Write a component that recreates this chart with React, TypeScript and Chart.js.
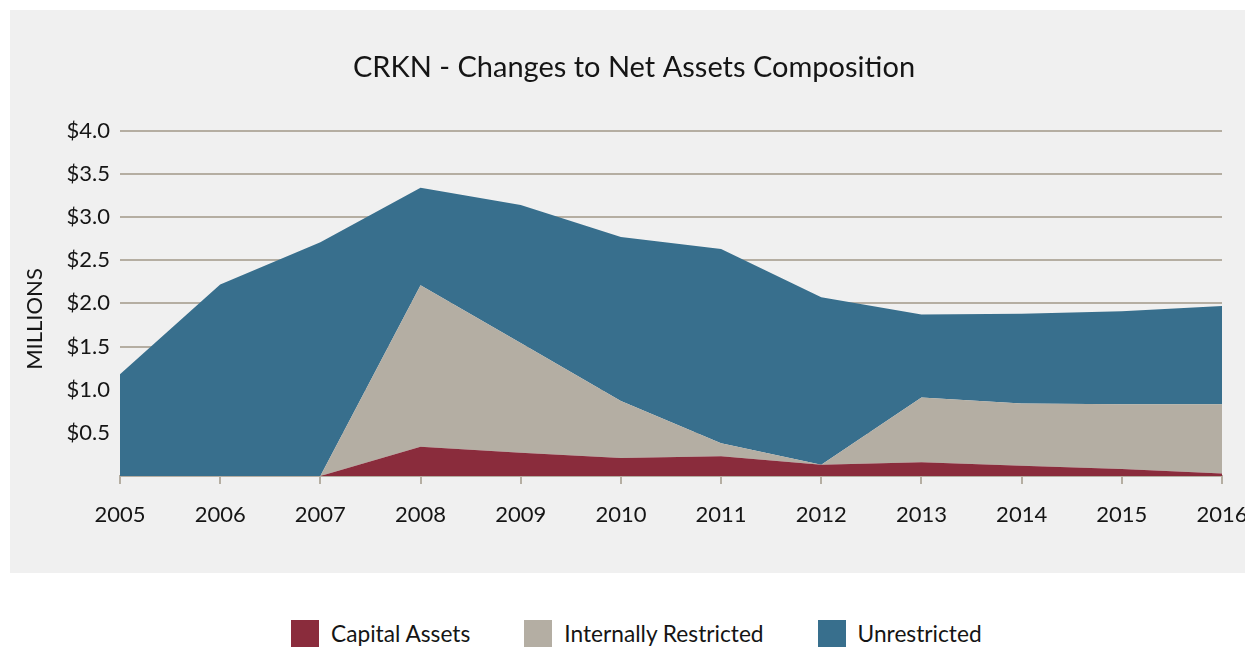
import React, { useEffect, useRef } from "react";
import { Chart, registerables } from "chart.js";

Chart.register(...registerables);

const years = ["2005", "2006", "2007", "2008", "2009", "2010", "2011", "2012", "2013", "2014", "2015", "2016"];
const capitalAssets = [0, 0, 0, 0.34, 0.27, 0.21, 0.23, 0.13, 0.16, 0.12, 0.08, 0.03];
const internallyRestricted = [0, 0, 0, 1.87, 1.27, 0.66, 0.15, 0, 0.75, 0.72, 0.75, 0.8];
const unrestricted = [1.18, 2.22, 2.71, 1.13, 1.6, 1.9, 2.25, 1.94, 0.96, 1.04, 1.08, 1.14];

const seriesNames = ["Capital Assets", "Internally Restricted", "Unrestricted"];
const seriesColors = ["#8a2c3c", "#b4aea3", "#386f8d"];

const FONT = "Lato, 'Open Sans', sans-serif";
const GRID = "#b5aea2";
const TEXT = "#151515";

const yTitlePlugin = {
  id: "yTitle",
  afterDraw(chart: any) {
    const ctx = chart.ctx;
    ctx.save();
    ctx.translate(25, 309);
    ctx.rotate(-Math.PI / 2);
    ctx.font = `22px ${FONT}`;
    ctx.fillStyle = TEXT;
    ctx.textAlign = "center";
    ctx.textBaseline = "middle";
    ctx.fillText("MILLIONS", 0, 0);
    ctx.restore();
  },
};

export default function App() {
  const ref = useRef<HTMLCanvasElement | null>(null);

  useEffect(() => {
    if (!ref.current) return;
    const data = [capitalAssets, internallyRestricted, unrestricted];
    const chart = new Chart(ref.current, {
      type: "line",
      data: {
        labels: years,
        datasets: data.map((d, i) => ({
          label: seriesNames[i],
          data: d,
          backgroundColor: seriesColors[i],
          borderColor: seriesColors[i],
          borderWidth: 0,
          pointRadius: 0,
          tension: 0,
          fill: i === 0 ? "origin" : "-1",
        })),
      },
      options: {
        animation: false,
        responsive: false,
        layout: { padding: { left: 36, right: 36, top: 0, bottom: 0 } },
        plugins: {
          legend: { display: false },
          tooltip: { enabled: false },
          title: {
            display: true,
            text: "CRKN - Changes to Net Assets Composition",
            color: TEXT,
            font: { family: FONT, size: 29, weight: "normal" },
            padding: { top: 40, bottom: 46 },
          },
        },
        scales: {
          x: {
            grid: {
              display: true,
              drawOnChartArea: false,
              drawTicks: true,
              tickLength: 8,
              color: GRID,
              lineWidth: 2,
            },
            border: { display: true, color: GRID, width: 2 },
            ticks: {
              color: TEXT,
              font: { family: FONT, size: 22 },
              padding: 18,
              maxRotation: 0,
            },
            afterFit(scale: any) {
              scale.height = 97;
              scale.paddingLeft = 0;
              scale.paddingRight = 0;
            },
          },
          y: {
            stacked: true,
            min: 0,
            max: 4,
            grid: { color: GRID, lineWidth: 2, drawTicks: false },
            border: { display: false },
            ticks: {
              stepSize: 0.5,
              color: TEXT,
              font: { family: FONT, size: 22 },
              padding: 10,
              callback: (v: any) => (Number(v) === 0 ? "" : "$" + Number(v).toFixed(1)),
            },
            afterFit(scale: any) {
              scale.width = 74;
            },
          },
        },
      },
      plugins: [yTitlePlugin],
    });
    return () => chart.destroy();
  }, []);

  return (
    <div style={{ position: "absolute", left: 0, top: 0, width: 1245, height: 647, overflow: "hidden", background: "#fff" }}>
      <div style={{ position: "absolute", left: 10, top: 10, width: 1235, height: 563, overflow: "hidden", background: "#f0f0f0" }}>
        <canvas ref={ref} width={1248} height={563} style={{ display: "block", width: 1248, height: 563 }} />
      </div>
      <div
        style={{
          position: "absolute",
          left: 291,
          top: 620,
          display: "flex",
          alignItems: "center",
          fontFamily: FONT,
          fontSize: 22.7,
          color: TEXT,
        }}
      >
        {seriesNames.map((n, i) => (
          <div key={n} style={{ display: "flex", alignItems: "center", marginRight: 54 }}>
            <div style={{ width: 28, height: 28, background: seriesColors[i], marginRight: 12 }} />
            <span style={{ lineHeight: "28px" }}>{n}</span>
          </div>
        ))}
      </div>
    </div>
  );
}
